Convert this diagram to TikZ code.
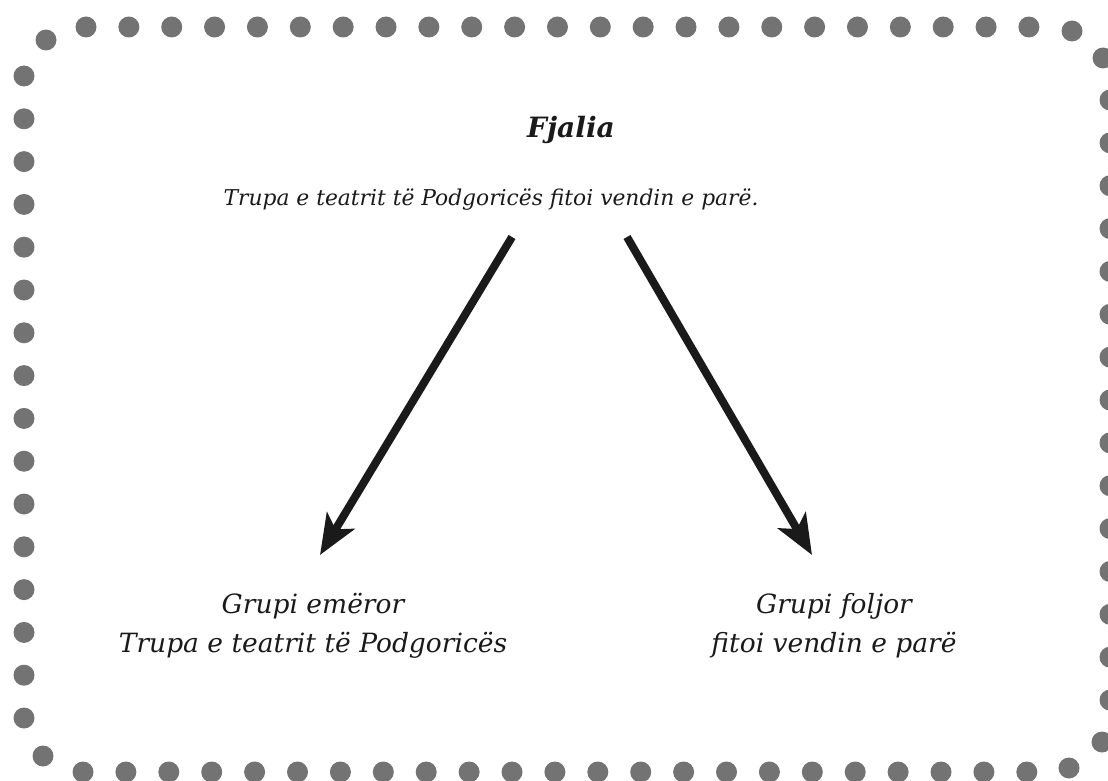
\documentclass[tikz,border=0pt]{standalone}
\usepackage{fontspec}
\setmainfont{DejaVu Serif}
\usetikzlibrary{arrows.meta}

\definecolor{dotgray}{HTML}{737373}
\definecolor{ink}{HTML}{1A1A1A}

\begin{document}
\begin{tikzpicture}[x=1pt, y=-1pt,
    title/.style={text=ink, font=\fontsize{28}{32}\selectfont\bfseries\itshape},
    sentence/.style={text=ink, font=\fontsize{21.8}{26}\selectfont\itshape},
    group/.style={text=ink, align=center, font=\fontsize{26.5}{39}\selectfont\itshape},
    bigarrow/.style={-{Stealth[length=40pt, width=32pt, inset=10pt]}, line width=8pt, draw=ink}]
    \useasboundingbox (0,0) rectangle (1108,781);

    % dotted frame
    \foreach \i in {0,...,22} {
        \fill[dotgray] (86+42.86*\i, 27) circle (10.5);
        \fill[dotgray] (83+42.9*\i, 772) circle (10.5);
    }
    \foreach \i in {0,...,15}
        \fill[dotgray] (24, 76+42.8*\i) circle (10.5);
    \foreach \i in {0,...,14}
        \fill[dotgray] (1110, 100+42.86*\i) circle (10.5);
    \foreach \p in {(46,40), (1072,31), (1103,58), (43,756), (1102,742), (1069,768)}
        \fill[dotgray] \p circle (10.5);

    \node[title] (fjalia) at (571, 130) {Fjalia};
    \node[sentence] (sent) at (491, 200) {Trupa e teatrit të Podgoricës fitoi vendin e parë.};
    \node[group] (emeror) at (313, 626) {Grupi emëror\\Trupa e teatrit të Podgoricës};
    \node[group] (foljor) at (834, 626) {Grupi foljor\\fitoi vendin e parë};

    \coordinate (lstart) at (512, 237);
    \coordinate (lend) at (320, 555);
    \coordinate (rstart) at (627, 237);
    \coordinate (rend) at (812, 555);

    \draw[bigarrow] (lstart) -- (lend);
    \draw[bigarrow] (rstart) -- (rend);
\end{tikzpicture}
\end{document}
